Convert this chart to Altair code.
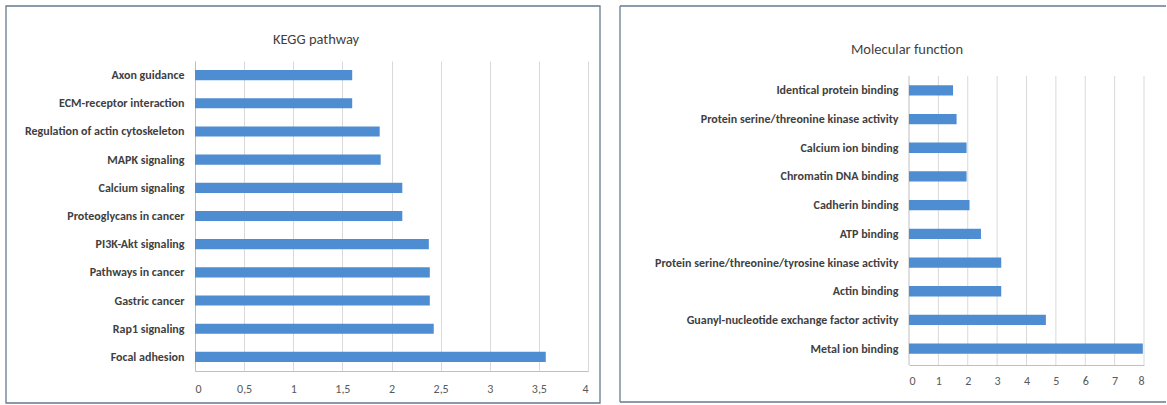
import altair as alt
import pandas as pd

# KEGG pathway enrichment (top to bottom as drawn)
kegg_terms = [
    "Axon guidance",
    "ECM-receptor interaction",
    "Regulation of actin cytoskeleton",
    "MAPK signaling",
    "Calcium signaling",
    "Proteoglycans in cancer",
    "PI3K-Akt signaling",
    "Pathways in cancer",
    "Gastric cancer",
    "Rap1 signaling",
    "Focal adhesion",
]
kegg_values = [1.60, 1.60, 1.88, 1.89, 2.11, 2.11, 2.38, 2.39, 2.39, 2.43, 3.57]
kegg_ticks = [0, 0.5, 1, 1.5, 2, 2.5, 3, 3.5, 4]

# GO molecular function enrichment (top to bottom as drawn)
mf_terms = [
    "Identical protein binding",
    "Protein serine/threonine kinase activity",
    "Calcium ion binding",
    "Chromatin DNA binding",
    "Cadherin binding",
    "ATP binding",
    "Protein serine/threonine/tyrosine kinase activity",
    "Actin binding",
    "Guanyl-nucleotide exchange factor activity",
    "Metal ion binding",
]
mf_values = [1.50, 1.62, 1.96, 1.96, 2.06, 2.45, 3.14, 3.14, 4.66, 7.96]
mf_ticks = [0, 1, 2, 3, 4, 5, 6, 7, 8]

FONT = "Carlito, Lato, sans-serif"
BAR = "#4f8dd2"
FRAME = "#667a8f"
GRID = "#d9d9d9"
AXIS_LINE = "#bfbfbf"
TEXT = "#3f3f3f"
TICK_TEXT = "#595959"
LINE_W = 1.3


def x_axis(ticks, label_pad, grid):
    return alt.Axis(
        values=ticks,
        title=None,
        grid=grid,
        gridColor=GRID,
        domainColor=AXIS_LINE,
        ticks=False,
        tickSize=0,
        labelPadding=label_pad,
        labelColor=TICK_TEXT,
        labelFontSize=12,
        labelFont=FONT,
        labelOverlap=False,
        labelExpr="replace(format(datum.value, '~g'), '.', ',')",
    )


def y_axis(domain):
    return alt.Axis(
        title=None,
        ticks=False,
        tickSize=0,
        domain=domain,
        domainColor=AXIS_LINE,
        labelPadding=11,
        labelFontSize=12,
        labelFontWeight=600,
        labelColor=TEXT,
        labelFont=FONT,
        labelLimit=400,
    )


def title_layer(text, dx, dy):
    return (
        alt.Chart(alt.Data(values=[{}]))
        .mark_text(text=text, font=FONT, fontSize=14.5, color=TEXT, align="center", baseline="middle")
        .encode(x=alt.value(dx), y=alt.value(dy))
    )


def box_frame(x0, x1, y0, y1):
    return (
        alt.Chart(alt.Data(values=[{}]))
        .mark_rect(fillOpacity=0, stroke=FRAME, strokeWidth=LINE_W)
        .encode(x=alt.value(x0), x2=alt.value(x1), y=alt.value(y0), y2=alt.value(y1))
    )


def open_frame(x0, x1, y0, y1):
    # chart border whose right side runs past the page edge
    one = alt.Data(values=[{}])
    top = alt.Chart(one).mark_rule(color=FRAME, strokeWidth=LINE_W).encode(
        x=alt.value(x0), x2=alt.value(x1), y=alt.value(y0))
    bottom = alt.Chart(one).mark_rule(color=FRAME, strokeWidth=LINE_W).encode(
        x=alt.value(x0), x2=alt.value(x1), y=alt.value(y1))
    left = alt.Chart(one).mark_rule(color=FRAME, strokeWidth=LINE_W).encode(
        x=alt.value(x0), y=alt.value(y0), y2=alt.value(y1))
    return top + bottom + left


# Left panel: KEGG pathways
kegg_df = pd.DataFrame({"term": kegg_terms, "value": kegg_values})
kegg_bars = (
    alt.Chart(kegg_df)
    .mark_bar(color=BAR)
    .encode(
        x=alt.X("value:Q", scale=alt.Scale(domain=[0, 4], nice=False), axis=x_axis(kegg_ticks, 12, True)),
        y=alt.Y("term:N", sort=kegg_terms,
                scale=alt.Scale(paddingInner=0.64, paddingOuter=0.32), axis=y_axis(True)),
    )
    .properties(width=393, height=310)
)

kegg_panel = alt.layer(
    box_frame(-189, 405, -55, 342),
    title_layer("KEGG pathway", 121, -21),
    kegg_bars,
)

# Right panel: molecular function; its plot body starts 15px below the panel origin
MF_TOP, MF_H = 15, 304
mf_df = pd.DataFrame({"term": mf_terms, "value": mf_values})
mf_x_scale = alt.Scale(domain=[0, 8], nice=False)
mf_x_axis = x_axis(mf_ticks, 10, False)

# vertical gridlines limited to the plot body
mf_grid = (
    alt.Chart(pd.DataFrame({"value": mf_ticks[1:]}))
    .mark_rule(color=GRID, strokeWidth=1)
    .encode(x=alt.X("value:Q", scale=mf_x_scale, axis=mf_x_axis), y=alt.value(MF_TOP), y2=alt.value(MF_H))
)
mf_yline = (
    alt.Chart(alt.Data(values=[{}]))
    .mark_rule(color=AXIS_LINE, strokeWidth=1)
    .encode(x=alt.value(0), y=alt.value(MF_TOP), y2=alt.value(MF_H))
)
mf_bars = (
    alt.Chart(mf_df)
    .mark_bar(color=BAR)
    .encode(
        x=alt.X("value:Q", scale=mf_x_scale, axis=mf_x_axis),
        y=alt.Y("term:N", sort=mf_terms,
                scale=alt.Scale(range=[MF_TOP, 302], paddingInner=0.64, paddingOuter=0.32),
                axis=y_axis(False)),
    )
    .properties(width=235, height=MF_H)
)

mf_panel = alt.layer(
    open_frame(-289, 257, -55, 341),
    title_layer("Molecular function", -2, -11),
    mf_grid,
    mf_yline,
    mf_bars,
)

chart = (
    alt.concat(kegg_panel, mf_panel, columns=2, spacing=18)
    .properties(padding={"left": 5, "top": 5, "right": 0, "bottom": 0}, background="white")
    .configure_view(stroke=None)
)

chart.save("out.html", embed_options={"renderer": "svg", "actions": False})
